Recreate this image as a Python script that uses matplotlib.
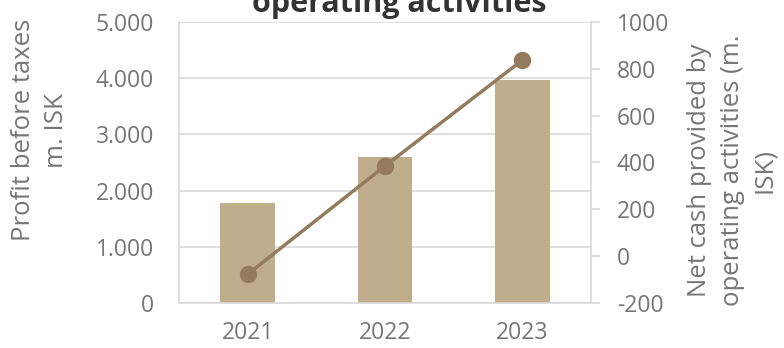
import matplotlib.pyplot as plt
from matplotlib.ticker import FuncFormatter

years = ['2021', '2022', '2023']
profit = [1775, 2605, 3975]          # profit before taxes, m. ISK
net_cash = [-77, 385, 837]           # net cash from operating activities, m. ISK

bar_color = '#bfad8b'
line_color = '#957b5e'
grey = '#767676'
grid_grey = '#d9d9d9'

plt.rcParams['font.family'] = ['Open Sans', 'DejaVu Sans']

fig, ax = plt.subplots(figsize=(7.84, 3.48), dpi=100)
fig.subplots_adjust(left=0.2283, right=0.7538, top=0.9368, bottom=0.1293)

x = range(len(years))
ax.bar(x, profit, width=0.4, color=bar_color, zorder=2)
ax.set_xlim(-0.5, 2.5)
ax.set_ylim(0, 5000)
ax.set_yticks(range(0, 5001, 1000))
ax.yaxis.set_major_formatter(FuncFormatter(lambda v, p: f'{int(v):,}'.replace(',', '.')))
ax.set_xticks(list(x))
ax.set_xticklabels(years)
ax.grid(axis='y', color=grid_grey, lw=1.2, zorder=0)
for s in ['top', 'right']:
    ax.spines[s].set_visible(False)
for s in ['left', 'bottom']:
    ax.spines[s].set_color(grid_grey)
    ax.spines[s].set_linewidth(1.2)
ax.tick_params(axis='both', length=0, colors=grey, labelsize=16.5)
ax.tick_params(axis='y', pad=18)
ax.tick_params(axis='x', pad=13)

ax2 = ax.twinx()
ax2.plot(x, net_cash, color=line_color, lw=2.5, marker='o', ms=11.5, zorder=3)
ax2.set_ylim(-200, 1000)
ax2.set_yticks(range(-200, 1001, 200))
ax2.yaxis.set_major_formatter(FuncFormatter(lambda v, p: f'{int(v)}'))
for s in ['top', 'left', 'bottom']:
    ax2.spines[s].set_visible(False)
ax2.spines['right'].set_color(grid_grey)
ax2.spines['right'].set_linewidth(1.2)
ax2.tick_params(axis='y', length=6.5, width=1.2, color=grid_grey, labelcolor=grey,
                labelsize=16.5, pad=12)

# axis titles
fig.text(0.051, 0.626, 'Profit before taxes\nm. ISK', rotation=90, ha='center',
         va='center', multialignment='center', fontsize=18.5, color=grey,
         linespacing=1.4)
fig.text(0.934, 0.511, 'Net cash provided by\noperating activities (m.\nISK)',
         rotation=90, ha='center', va='center', multialignment='center',
         fontsize=18.5, color=grey, linespacing=1.4)

# chart title, its upper part runs off the top edge
fig.text(0.509, 0.9655, 'operating activities', ha='center', va='baseline',
         fontsize=22, fontweight='bold', color='#333333')

fig.savefig('out.png', dpi=100)
